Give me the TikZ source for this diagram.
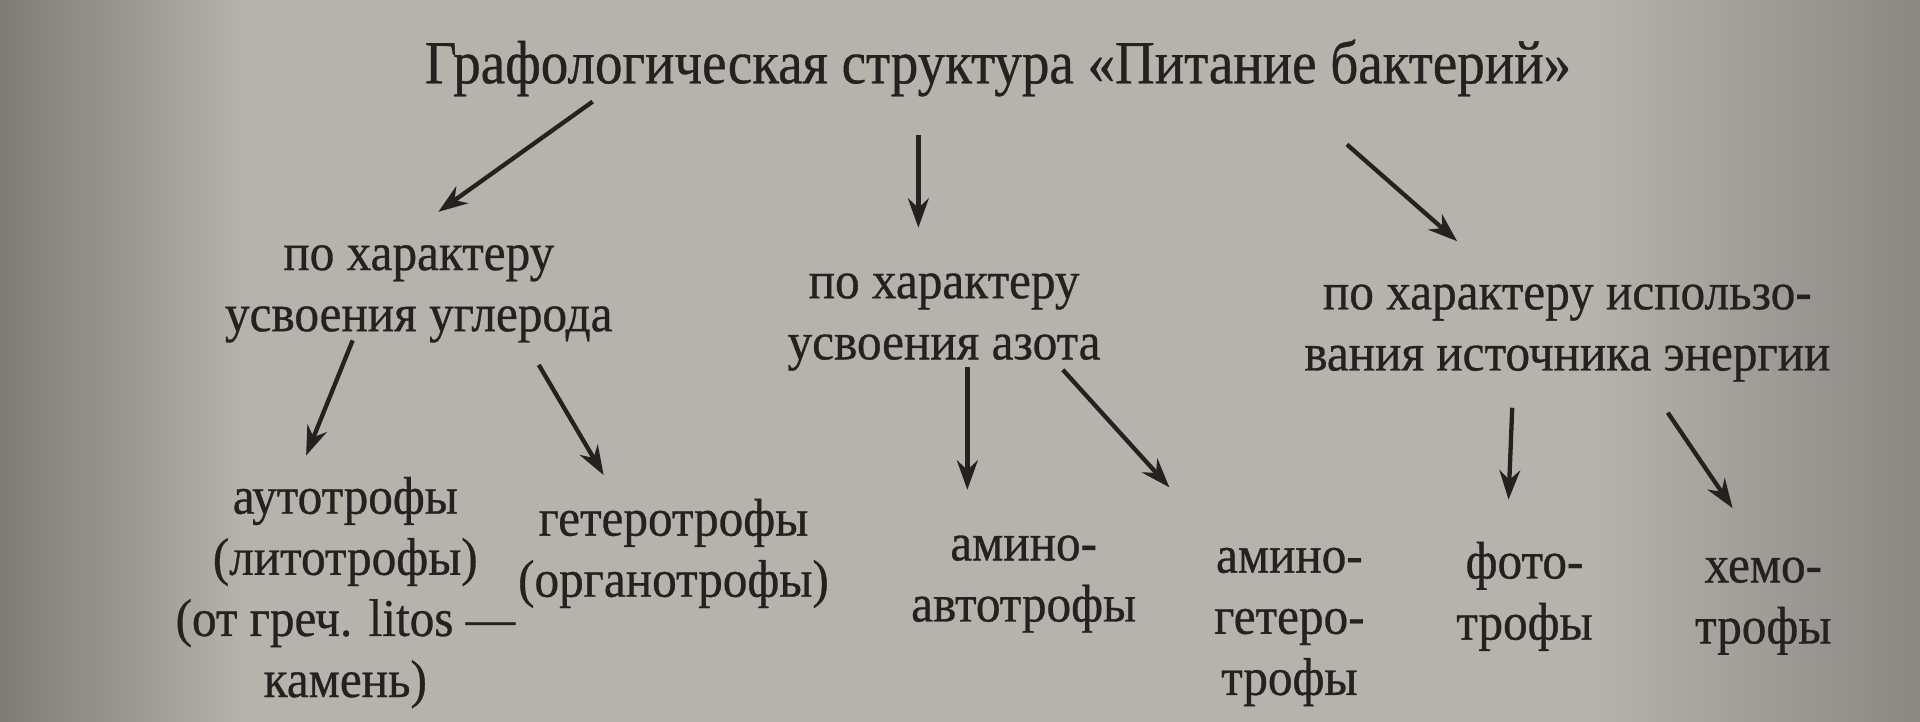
\documentclass[tikz,border=0pt]{standalone}
\usepackage{fontspec}
\setmainfont{Liberation Serif}[FakeStretch=0.93, FakeBold=0.6]
\newfontfamily\titlefont{Liberation Serif}[FakeStretch=0.9, FakeBold=0.6]
\usetikzlibrary{arrows.meta}
\definecolor{paper}{RGB}{182,179,172}
\definecolor{paperdark}{RGB}{125,123,117}
\definecolor{ink}{RGB}{36,34,32}
\tikzset{
  txt/.style={align=center, inner sep=0pt, text=ink, font=\fontsize{12.3}{14.2}\selectfont},
  ttl/.style={inner sep=0pt, text=ink, anchor=base, font=\titlefont\fontsize{14.2}{16}\selectfont},
  arr/.style={draw=ink, line width=1pt, -{Stealth[length=2.4mm,width=1.7mm]}},
}
\begin{document}
\begin{tikzpicture}[x=0.1mm,y=-0.1mm]
\useasboundingbox (0,0) rectangle (1568,589.6);
\shade[left color=paperdark, right color=paper, middle color=paper] (0,0) rectangle (400,589.6);
\fill[paper] (400,0) rectangle (1300,589.6);
\shade[left color=paper, right color=paperdark!90] (1300,0) rectangle (1568,589.6);

\node[ttl] (title) at (815,68) {Графологическая структура «Питание бактерий»};

\node[txt] (carbon) at (342,240) {по характеру\\усвоения углерода};
\node[txt] (nitro) at (771,263) {по характеру\\усвоения азота};
\node[txt] (energy) at (1280,272) {по характеру использо-\\вания источника энергии};

\node[txt] (auto) at (282,484) {аутотрофы\\(литотрофы)\\(от греч. litos —\\камень)};
\node[txt] (hetero) at (550,452) {гетеротрофы\\(органотрофы)};
\node[txt] (aminoauto) at (836,477) {амино-\\автотрофы};
\node[txt] (aminohet) at (1053,512) {амино-\\гетеро-\\трофы};
\node[txt] (photo) at (1245,487) {фото-\\трофы};
\node[txt] (chemo) at (1440,495) {хемо-\\трофы};

\coordinate (t1s) at (484,83);   \coordinate (t1e) at (358,173);
\coordinate (t2s) at (750,110);  \coordinate (t2e) at (750,186);
\coordinate (t3s) at (1100,118); \coordinate (t3e) at (1190,197);
\coordinate (c1s) at (288,278);  \coordinate (c1e) at (250,372);
\coordinate (c2s) at (440,298);  \coordinate (c2e) at (493,388);
\coordinate (n1s) at (790,300);  \coordinate (n1e) at (790,400);
\coordinate (n2s) at (868,302);  \coordinate (n2e) at (955,398);
\coordinate (e1s) at (1235,333); \coordinate (e1e) at (1232,408);
\coordinate (e2s) at (1362,337); \coordinate (e2e) at (1415,415);

\draw[arr] (t1s) -- (t1e);
\draw[arr] (t2s) -- (t2e);
\draw[arr] (t3s) -- (t3e);
\draw[arr] (c1s) -- (c1e);
\draw[arr] (c2s) -- (c2e);
\draw[arr] (n1s) -- (n1e);
\draw[arr] (n2s) -- (n2e);
\draw[arr] (e1s) -- (e1e);
\draw[arr] (e2s) -- (e2e);
\end{tikzpicture}
\end{document}
